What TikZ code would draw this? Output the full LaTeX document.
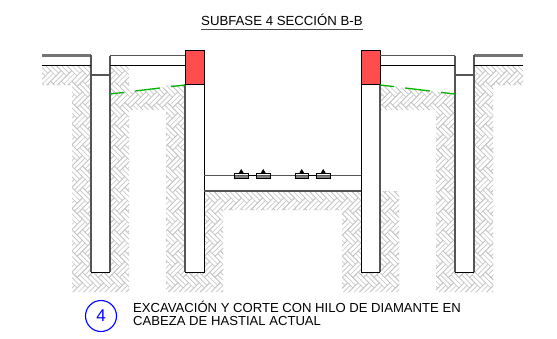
\documentclass[tikz,border=0pt]{standalone}
\usepackage{fontspec}
\setmainfont{Liberation Sans}
\definecolor{hatchc}{HTML}{C6C6C6}
\definecolor{wallg}{HTML}{555555}
\definecolor{redb}{HTML}{FF4D4D}
\definecolor{greenl}{HTML}{00B400}
\tikzset{
  wall/.style={draw=wallg,line width=1.1pt},
  thinblack/.style={draw=black,line width=0.9pt},
  greyl/.style={draw=wallg,line width=1.4pt},
  groundl/.style={draw=black!55,line width=2.6pt},
  cut/.style={draw=greenl,line width=1.3pt},
  redblock/.style={draw=black,fill=redb,line width=1pt,minimum width=19pt,minimum height=34pt,inner sep=0pt},
  dev/.style={draw=black,line width=0.8pt},
  lbl/.style={inner sep=0pt,anchor=base west,font=\fontsize{13.1}{15}\selectfont}
}
\newcommand{\herring}{%
  \begin{scope}[shift={(40,60)},rotate=45]
  \foreach \i in {-3,...,50}{
    \foreach \j in {-11,...,2}{
      \pgfmathsetmacro{\ox}{\i*7.5+\j*15}
      \pgfmathsetmacro{\oy}{\i*7.5-\j*15}
      \draw[hatchc,line width=0.65pt,shift={(\ox,\oy)}] (0,0) rectangle (15,7.5) (0,3.75) -- (15,3.75)
        (15,-7.5) rectangle (22.5,7.5) (18.75,-7.5) -- (18.75,7.5);
    }
  }
  \end{scope}}
\begin{document}
\begin{tikzpicture}[x=1pt,y=-1pt]
\useasboundingbox (0,0) rectangle (557,338);
\fill[white] (0,0) rectangle (557,338);
\begin{scope}
\clip (42,65) rectangle (91,85)
      (72,65) rectangle (129,292)
      (110,94) -- (110,110) -- (185,110) -- (185,85) -- cycle
      (166,85) rectangle (223,292)
      (204,191) rectangle (361,210)
      (342,191) rectangle (399,292)
      (380,85) -- (380,110) -- (455,110) -- (455,94) -- cycle
      (436,94) rectangle (493,292)
      (474,65) rectangle (493,292)
      (474,65) rectangle (523,85);
\herring
\end{scope}
% wall interiors
\fill[white] (91,56) rectangle (110,272) (185,84) rectangle (204,272)
             (361,84) rectangle (380,272) (455,56) rectangle (474,272);
\fill[white] (204,85) rectangle (361,191);
% left outer wall
\draw[groundl] (42,55.2) -- (91,55.2);
\draw[wall] (91,55) -- (91,272);
\draw[wall] (110,55.5) -- (110,272);
\draw[thinblack] (91,272) -- (110,272);
\draw[greyl] (91,75) -- (110,75);
\draw[greyl] (110,55.5) -- (185,55.5);
\draw[thinblack] (42,65.3) -- (91,65.3);
\draw[thinblack] (110,65.3) -- (185,65.3);
% left inner wall
\draw[wall] (185,84) -- (185,272);
\draw[thinblack] (204,84) -- (204,272) -- (185,272);
\node[redblock] (redL) at (194.5,67) {};
% right inner wall
\draw[wall] (380,84) -- (380,272);
\draw[thinblack] (361,84) -- (361,272) -- (380,272);
\node[redblock] (redR) at (370.5,67) {};
% right outer wall
\draw[groundl] (474,55.2) -- (523,55.2);
\draw[wall] (474,55) -- (474,272);
\draw[wall] (455,55.5) -- (455,272);
\draw[thinblack] (455,272) -- (474,272);
\draw[greyl] (455,75) -- (474,75);
\draw[greyl] (380,55.5) -- (455,55.5);
\draw[thinblack] (474,65.3) -- (523,65.3);
\draw[thinblack] (380,65.3) -- (455,65.3);
% green cut lines
\draw[cut] (110,94) -- (124,92.4) (135,91) -- (160,88) (171,86.6) -- (185,85);
\draw[cut] (380,85) -- (394,86.6) (405,88) -- (430,91) (441,92.4) -- (455,94);
% slab
\draw[greyl] (204,175.7) -- (361,175.7);
\draw[wall] (204,191) -- (361,191);
% devices
\foreach \x in {234.5,256.5,295,316.5}{
  \fill[gray] (\x,175.5) rectangle (\x+13.5,178);
  \fill[black] (\x+4,173.5) -- (\x+6.7,169) -- (\x+9.5,173.5) -- cycle;
  \draw[dev] (\x,173) rectangle (\x+13.5,178);
}
\draw[thinblack] (248,175) -- (256.5,175);
\draw[thinblack] (308.5,175) -- (316.5,175);
% texts
\node[lbl,font=\fontsize{13.2}{15}\selectfont] (title) at (201,25.7) {SUBFASE 4 SECCIÓN B-B};
\draw[black!70,line width=0.9pt] (title.west |- 0,29) -- (title.east |- 0,29);
\node[circle,draw=blue,line width=1.1pt,minimum size=31pt,inner sep=0pt,font=\fontsize{17}{18}\selectfont,text=blue] (num) at (101,316) {4};
\node[lbl] (l1) at (133,312) {EXCAVACIÓN Y CORTE CON HILO DE DIAMANTE EN};
\node[lbl] (l2) at (133,325) {CABEZA DE HASTIAL ACTUAL};
\end{tikzpicture}
\end{document}
